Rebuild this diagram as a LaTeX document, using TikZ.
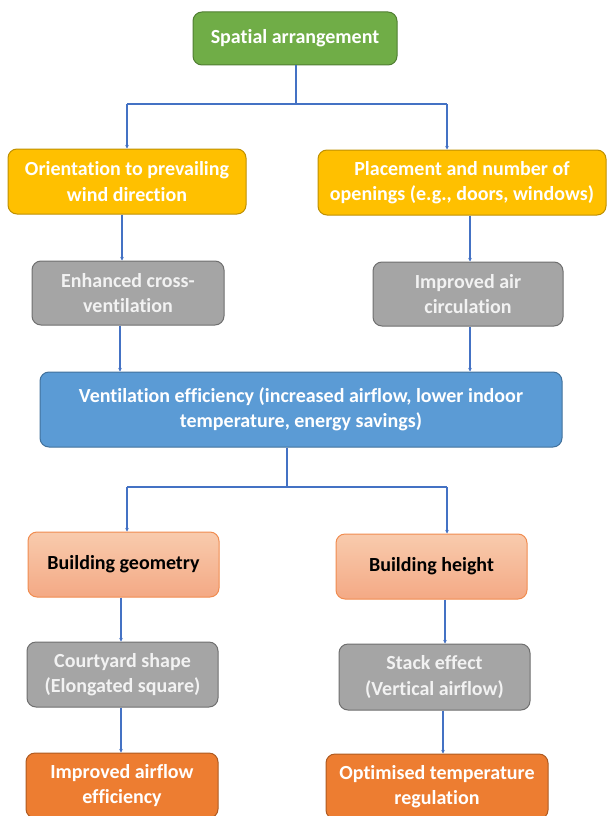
\documentclass[tikz,border=0pt]{standalone}
\usepackage{fontspec}
\setmainfont{Carlito}[Ligatures=NoCommon]
\usetikzlibrary{arrows.meta}
\definecolor{lnblue}{HTML}{4472C4}
\definecolor{gfill}{HTML}{70AD47}
\definecolor{gdraw}{HTML}{507E32}
\definecolor{yfill}{HTML}{FFC000}
\definecolor{ydraw}{HTML}{BF9000}
\definecolor{grfill}{HTML}{A5A5A5}
\definecolor{grdraw}{HTML}{6F6F6F}
\definecolor{bfill}{HTML}{5B9BD5}
\definecolor{bdraw}{HTML}{41719C}
\definecolor{stop}{HTML}{F8CBAD}
\definecolor{sbot}{HTML}{F4A985}
\definecolor{sdraw}{HTML}{F08C50}
\definecolor{ofill}{HTML}{ED7D31}
\definecolor{odraw}{HTML}{AE5A21}
\tikzset{
  box/.style={rectangle, rounded corners=9pt, line width=1pt, align=center,
    inner sep=0pt, font=\fontsize{20}{25.5}\selectfont\bfseries, text=white},
  greenbox/.style={box, fill=gfill, draw=gdraw},
  yellowbox/.style={box, fill=yfill, draw=ydraw},
  graybox/.style={box, fill=grfill, draw=grdraw, text=white!95!black},
  bluebox/.style={box, fill=bfill, draw=bdraw},
  salmonbox/.style={box, top color=stop, bottom color=sbot, draw=sdraw, text=black},
  orangebox/.style={box, fill=ofill, draw=odraw},
  conn/.style={draw=lnblue, line width=1.1pt},
  arr/.style={conn, -{Stealth[length=3.5pt,width=3.5pt]}}
}
\begin{document}
\begin{tikzpicture}[x=1pt,y=-1pt]
\useasboundingbox (0,0) rectangle (607,816);
\node[greenbox, minimum width=204pt, minimum height=53pt] (top) at (295,38.5) {Spatial arrangement};
\node[yellowbox, minimum width=238pt, minimum height=65pt] (orient) at (127,181.5) {Orientation to prevailing\\wind direction};
\node[yellowbox, minimum width=288pt, minimum height=65pt] (place) at (462,182.5) {Placement and number of\\openings (e.g., doors, windows)};
\node[graybox, minimum width=192pt, minimum height=64pt] (enh) at (128,293) {Enhanced cross-\\ventilation};
\node[graybox, minimum width=190pt, minimum height=64pt] (air) at (468,294) {Improved air\\circulation};
\node[bluebox, minimum width=522pt, minimum height=75pt] (vent) at (301,409.5) {Ventilation efficiency (increased airflow, lower indoor\\temperature, energy savings)};
\node[salmonbox, minimum width=191pt, minimum height=65pt] (geom) at (123.5,564.5) {Building geometry};
\node[salmonbox, minimum width=191pt, minimum height=65pt] (height) at (431.5,566.5) {Building height};
\node[graybox, minimum width=191pt, minimum height=65pt] (court) at (122.5,674.5) {Courtyard shape\\(Elongated square)};
\node[graybox, minimum width=191pt, minimum height=66pt] (stack) at (434.5,677) {Stack effect\\(Vertical airflow)};
\node[orangebox, minimum width=192pt, minimum height=65pt] (flow) at (122,785.5) {Improved airflow\\efficiency};
\node[orangebox, minimum width=222pt, minimum height=65pt] (optim) at (437,786.5) {Optimised temperature\\regulation};
% helper coordinates for connector columns
\coordinate (t1) at (296,104);
\coordinate (cL) at (127,104);
\coordinate (cR) at (447,104);
\coordinate (x122) at (122,0);
\coordinate (x470) at (470,0);
\coordinate (x120) at (120,0);
\coordinate (t2) at (287,487);
\coordinate (dL) at (127,487);
\coordinate (dR) at (447,487);
\coordinate (x121) at (121,0);
\coordinate (x445) at (445,0);
\coordinate (x443) at (443,0);
% connectors
\draw[conn] (top.south -| t1) -- (t1);
\draw[conn] (cL) -- (cR);
\draw[arr] (cL) -- (orient.north -| cL);
\draw[arr] (cR) -- (place.north -| cR);
\draw[arr] (orient.south -| x122) -- (enh.north -| x122);
\draw[arr] (place.south -| x470) -- (air.north -| x470);
\draw[arr] (enh.south -| x120) -- (vent.north -| x120);
\draw[arr] (air.south -| x470) -- (vent.north -| x470);
\draw[conn] (vent.south -| t2) -- (t2);
\draw[conn] (dL) -- (dR);
\draw[arr] (dL) -- (geom.north -| dL);
\draw[arr] (dR) -- (height.north -| dR);
\draw[arr] (geom.south -| x121) -- (court.north -| x121);
\draw[arr] (court.south -| x121) -- (flow.north -| x121);
\draw[arr] (height.south -| x445) -- (stack.north -| x445);
\draw[arr] (stack.south -| x443) -- (optim.north -| x443);
\end{tikzpicture}
\end{document}
